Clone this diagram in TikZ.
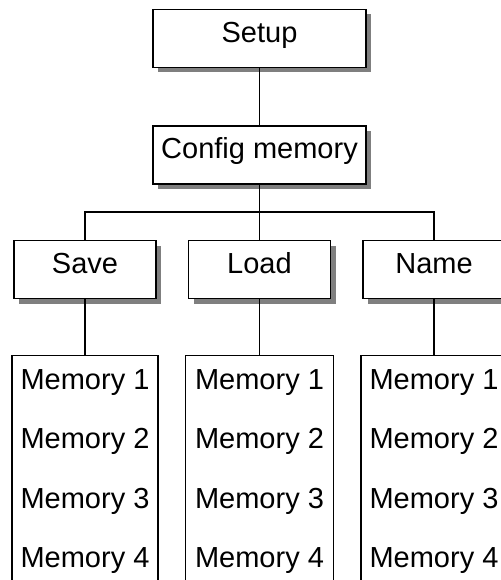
\documentclass[tikz,border=0pt]{standalone}
\usepackage{fontspec}
\setmainfont{Liberation Sans}
\usetikzlibrary{positioning, shadows}

\begin{document}
\begin{tikzpicture}[
    x=1pt, y=-1pt,
    font=\fontsize{29}{33}\selectfont,
    line width=1.4pt,
    block/.style={draw, fill=white, inner sep=0pt, text height=33pt, text depth=25pt,
        drop shadow={shadow xshift=5pt, shadow yshift=-5pt, fill=black, opacity=0.5}},
    wide/.style={block, minimum width=213pt},
    narrow/.style={block, minimum width=142pt},
    column/.style={draw, fill=white, anchor=north, minimum height=270pt},
    entry/.style={anchor=base, inner sep=0pt}
]
    \useasboundingbox (0,0) rectangle (500,580);

    \node[wide] (setup) at (259.5,38.5) {Setup};
    \node[wide] (config) at (259.5,155) {Config memory};

    \node[narrow] (save) at (85,269.5) {Save};
    \node[narrow] (load) at (259.5,269.5) {Load};
    \node[narrow] (name) at (434,269.5) {Name};

    \node[column, minimum width=146pt] (savemem) at (85,355) {};
    \node[column, minimum width=148pt] (loadmem) at (259.5,355) {};
    \node[column, minimum width=146pt] (namemem) at (434,355) {};

    \foreach \col/\x in {save/85, load/259.5, name/434}
        \foreach \i in {1,...,4}
            \node[entry] (\col-m\i) at (\x,{389+59.5*(\i-1)}) {Memory \i};

    \coordinate (bar) at (259.5,212);

    \draw (setup) -- (config);
    \draw (config) -- (bar);
    \draw (save.north) |- (bar) -| (name.north);
    \draw (bar) -- (load.north);

    \draw (save) -- (savemem);
    \draw (load) -- (loadmem);
    \draw (name) -- (namemem);
\end{tikzpicture}
\end{document}
